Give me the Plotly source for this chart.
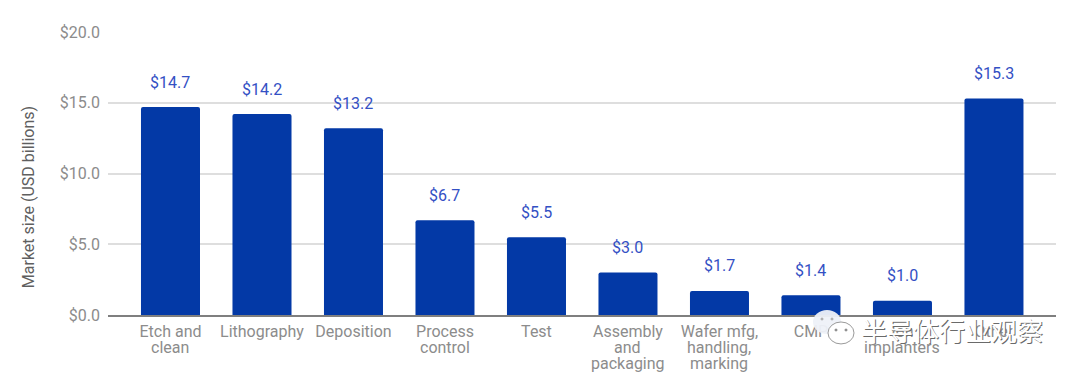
import plotly.graph_objects as go

categories = ["Etch and", "Lithography", "Deposition", "Process", "Test",
              "Assembly", "Wafer mfg,", "CMP", "Ion", "Other"]
extra_lines = [["clean"], [], [], ["control"], [],
               ["and", "packaging"], ["handling,", "marking"], [], ["implanters"], []]
values = [14.7, 14.2, 13.2, 6.7, 5.5, 3.0, 1.7, 1.4, 1.0, 15.3]
labels = ["$14.7", "$14.2", "$13.2", "$6.7", "$5.5", "$3.0", "$1.7", "$1.4", "$1.0", "$15.3"]
tick_vals = [0, 5, 10, 15, 20]
tick_text = ["$0.0", "$5.0", "$10.0", "$15.0", "$20.0"]

FONT = "Roboto"
GREY = "#8c8c8c"
W, H = 1080, 378
L, R, T, B = 108, 24, 31.5, 63
PW, PH = W - L - R, H - T - B

def px(x):
    return (x - L) / PW

def py(y):
    return (H - B - y) / PH

fig = go.Figure(go.Bar(
    x=categories, y=values,
    marker=dict(color="#0339a6", line=dict(width=0), cornerradius=2),
    width=0.645,
))

annotations = []
for c, v, t in zip(categories, values, labels):
    annotations.append(dict(x=c, y=v, xref="x", yref="y", text=t, showarrow=False,
                            yanchor="middle", yshift=25,
                            font=dict(family=FONT, size=16, color="#3350c4")))
for c, lines in zip(categories, extra_lines):
    for i, line in enumerate(lines):
        annotations.append(dict(x=c, y=0, xref="x", yref="y", text=line, showarrow=False,
                                yanchor="middle", yshift=-(32 + 16 * i),
                                font=dict(family=FONT, size=16, color=GREY)))
annotations.append(dict(x=px(28), y=py(197), xref="paper", yref="paper", showarrow=False,
                        text="Market size (USD billions)", textangle=-90,
                        xanchor="center", yanchor="middle",
                        font=dict(family=FONT, size=16, color="#5f5f5f")))
# watermark: grey offset copy beneath a white copy
for dx, dy, col in [(1, -1, "#6a6a6a"), (0, 0, "#ffffff")]:
    annotations.append(dict(x=px(1045), y=py(330), xref="paper", yref="paper", showarrow=False,
                            text="半导体行业观察", xanchor="right", yanchor="middle",
                            xshift=dx, yshift=dy,
                            font=dict(family="Noto Sans CJK SC", size=26, color=col)))

def ellipse(cx, cy, rx, ry, fill, line, lw=1):
    return dict(type="circle", xref="paper", yref="paper", layer="above",
                x0=px(cx - rx), x1=px(cx + rx), y0=py(cy + ry), y1=py(cy - ry),
                fillcolor=fill, line=dict(color=line, width=lw))

shapes = [
    ellipse(827, 322, 14, 12, "rgba(238,241,248,0.95)", "rgba(255,255,255,0)", 0),
    ellipse(841, 333, 13, 11, "#ffffff", "#9a9a9a", 1),
    ellipse(822, 319, 1.5, 1.5, "#b0b0b0", "#b0b0b0", 0),
    ellipse(832, 319, 1.5, 1.5, "#b0b0b0", "#b0b0b0", 0),
    ellipse(836, 330, 1.5, 1.5, "#909090", "#909090", 0),
    ellipse(846, 330, 1.5, 1.5, "#909090", "#909090", 0),
]

fig.update_layout(
    width=W, height=H, margin=dict(l=L, r=R, t=T, b=B, pad=0),
    paper_bgcolor="white", plot_bgcolor="white", showlegend=False,
    font=dict(family=FONT, color=GREY),
    xaxis=dict(type="category", range=[-0.683, 9.678], tickfont=dict(size=16, color=GREY),
               showline=True, linecolor="#7f7f7f", linewidth=2, ticks="", tickangle=0,
               automargin=False, ticklabelstandoff=1),
    yaxis=dict(range=[0, 20], tickvals=tick_vals, ticktext=tick_text, gridcolor="#dedede", gridwidth=2,
               tickfont=dict(size=16, color=GREY), zeroline=False, automargin=False,
               ticklabelstandoff=7),
    annotations=annotations, shapes=shapes,
)
fig.write_html("out.html", config=dict(displayModeBar=False),
               post_script="document.body.style.margin='0';")
